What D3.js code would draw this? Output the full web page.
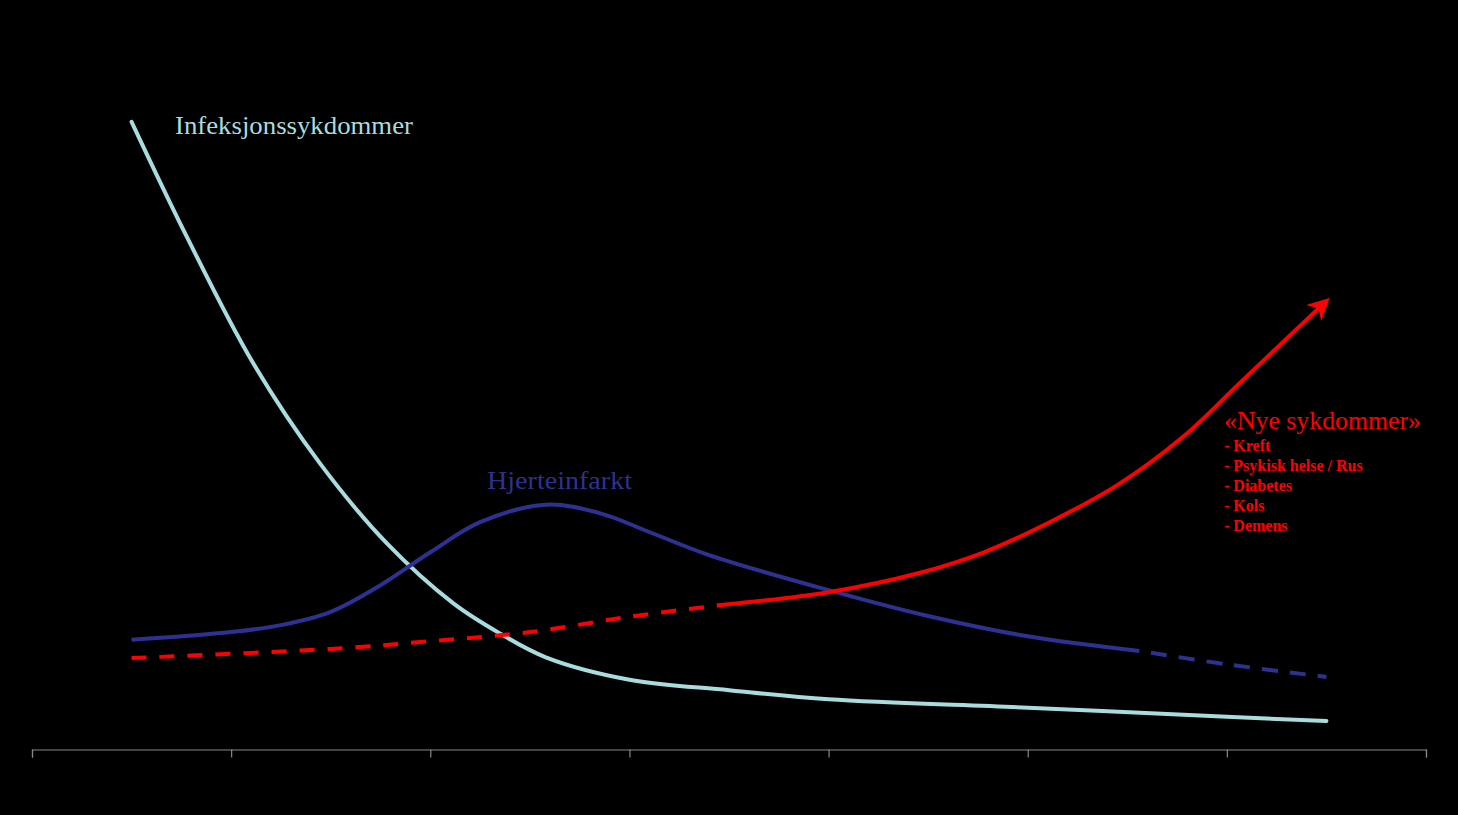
<!DOCTYPE html>
<html>
<head>
<meta charset="utf-8">
<script src="https://cdn.jsdelivr.net/npm/d3@7"></script>
<style>
  body { margin: 0; background: #000; }
  svg { display: block; }
</style>
</head>
<body>
<div id="chart"></div>
<script>
var width = 1458;
var height = 815;

// x is in "period" units (axis has 7 intervals), y is a relative level 0-100
var xTicks = [0, 1, 2, 3, 4, 5, 6, 7];

var infeksjonX = [0.5, 0.777, 1.111, 1.446, 1.781, 2.116, 2.35, 2.58, 3.0, 3.5, 4.0, 5.0, 6.0, 6.5];
var infeksjonY = [89.6, 73.2, 55.1, 40.8, 29.4, 20.8, 16.5, 13.1, 9.9, 8.4, 7.1, 5.9, 4.6, 4.0];

var hjerteX = [0.5, 1.0, 1.25, 1.5, 1.75, 2.0, 2.25, 2.58, 2.85, 3.1, 3.4, 4.0, 4.5, 5.0, 5.56];
var hjerteY = [15.6, 16.7, 17.7, 19.6, 23.4, 28.1, 32.4, 34.9, 33.7, 31.0, 27.7, 22.7, 19.0, 16.1, 14.0];
// forecast part (dashed)
var hjerteProgX = [5.56, 6.0, 6.5];
var hjerteProgY = [14.0, 12.1, 10.3];

// earlier part (dashed)
var nyeHistX = [0.5, 1.5, 2.0, 2.5, 3.0, 3.47];
var nyeHistY = [13.0, 14.3, 15.4, 16.7, 18.9, 20.6];
var nyeX = [3.47, 4.0, 4.45, 4.78, 5.11, 5.45, 5.78, 6.08, 6.5];
var nyeY = [20.6, 22.4, 25.1, 28.1, 32.4, 37.7, 44.6, 52.7, 64.0];

var nyeListe = ["- Kreft", "- Psykisk helse / Rus", "- Diabetes", "- Kols", "- Demens"];

function pts(xs, ys) { return xs.map(function (d, i) { return [d, ys[i]]; }); }

var x = d3.scaleLinear().domain([0, 7]).range([32, 1426]);
var y = d3.scaleLinear().domain([0, 100]).range([749, 49]);

var line = d3.line()
    .x(function (d) { return x(d[0]); })
    .y(function (d) { return y(d[1]); })
    .curve(d3.curveCatmullRom.alpha(0.5));

var svg = d3.select("#chart").append("svg")
    .attr("width", width)
    .attr("height", height)
    .style("background", "#000");

svg.append("defs").append("marker")
    .attr("id", "arrow")
    .attr("viewBox", "0 0 10 10")
    .attr("refX", 8)
    .attr("refY", 5)
    .attr("markerWidth", 5.5)
    .attr("markerHeight", 5.5)
    .attr("markerUnits", "strokeWidth")
    .attr("orient", "auto")
    .append("path")
    .attr("d", "M0,0 L10,5 L0,10 L3,5 Z")
    .attr("fill", "#ff0000");

// axis, no labels
var axis = svg.append("g")
    .attr("transform", "translate(0,749.5)")
    .call(d3.axisBottom(x).tickValues(xTicks).tickSize(8).tickFormat(""));
axis.selectAll("path, line").attr("stroke", "#888").attr("stroke-width", 1.2);

svg.append("path")
    .datum(pts(infeksjonX, infeksjonY))
    .attr("d", line)
    .attr("fill", "none")
    .attr("stroke", "#a9dcdf")
    .attr("stroke-width", 4)
    .attr("stroke-linecap", "round");

svg.append("path")
    .datum(pts(hjerteX, hjerteY))
    .attr("d", line)
    .attr("fill", "none")
    .attr("stroke", "#2e3192")
    .attr("stroke-width", 4);

svg.append("path")
    .datum(pts(hjerteProgX, hjerteProgY))
    .attr("d", line)
    .attr("fill", "none")
    .attr("stroke", "#2e3192")
    .attr("stroke-width", 4)
    .attr("stroke-dasharray", "16,12")
    .attr("stroke-dashoffset", -12);

svg.append("path")
    .datum(pts(nyeHistX, nyeHistY))
    .attr("d", line)
    .attr("fill", "none")
    .attr("stroke", "#ff0000")
    .attr("stroke-width", 4)
    .attr("stroke-dasharray", "15,13");

svg.append("path")
    .datum(pts(nyeX, nyeY))
    .attr("d", line)
    .attr("fill", "none")
    .attr("stroke", "#ff0000")
    .attr("stroke-width", 4)
    .attr("marker-end", "url(#arrow)");

// labels
function label(txt, px, py, len, color) {
    svg.append("text")
        .attr("x", px).attr("y", py)
        .attr("font-family", "Liberation Serif, serif")
        .attr("font-size", 25)
        .attr("textLength", len)
        .attr("lengthAdjust", "spacingAndGlyphs")
        .attr("fill", color)
        .text(txt);
}
label("Infeksjonssykdommer", 175, 134, 238, "#a9dcdf");
label("Hjerteinfarkt", 487, 489, 145, "#2e3192");
label("«Nye sykdommer»", 1224, 429, 197, "#ff0000");

svg.selectAll("text.item")
    .data(nyeListe)
    .enter().append("text")
    .attr("class", "item")
    .attr("x", 1224)
    .attr("y", function (d, i) { return 451 + i * 20; })
    .attr("font-family", "Liberation Serif, serif")
    .attr("font-weight", "bold")
    .attr("font-size", 16)
    .attr("fill", "#ff0000")
    .text(String);
</script>
</body>
</html>
